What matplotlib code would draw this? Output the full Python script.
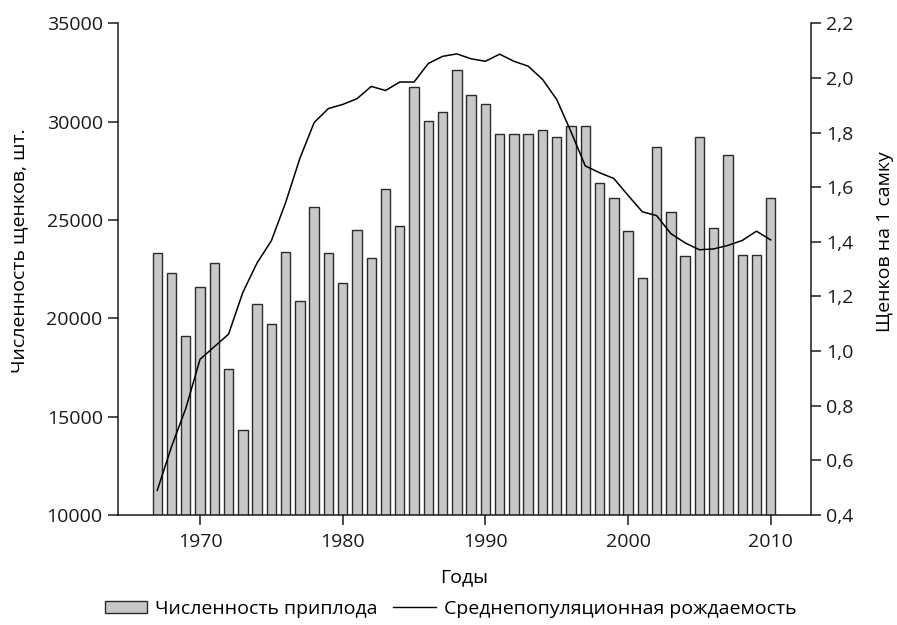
import matplotlib
matplotlib.use("Agg")
import matplotlib.pyplot as plt
from matplotlib.patches import Patch
from matplotlib.lines import Line2D
from matplotlib.ticker import FuncFormatter

plt.rcParams['font.family'] = ['Open Sans', 'DejaVu Sans']

years = list(range(1967, 2011))
offspring = [23300, 22300, 19100, 21600, 22800, 17400, 14300, 20750, 19700, 23350,
             20900, 25650, 23300, 21800, 24500, 23070, 26600, 24700, 31770, 30050,
             30500, 32630, 31370, 30880, 29390, 29390, 29390, 29600, 29200, 29800,
             29800, 26890, 26130, 24440, 22050, 28730, 25430, 23150, 29240, 24600,
             28290, 23240, 23240, 26130]
fertility = [0.49, 0.65, 0.79, 0.97, 1.016, 1.062, 1.215, 1.323, 1.404, 1.544,
             1.706, 1.837, 1.888, 1.903, 1.924, 1.969, 1.954, 1.985, 1.985, 2.053,
             2.079, 2.088, 2.070, 2.061, 2.087, 2.061, 2.043, 1.995, 1.921, 1.803,
             1.678, 1.653, 1.632, 1.570, 1.510, 1.496, 1.430, 1.396, 1.371, 1.374,
             1.387, 1.405, 1.439, 1.407]

left_ticks = [10000, 15000, 20000, 25000, 30000, 35000]
right_ticks = [0.4, 0.6, 0.8, 1.0, 1.2, 1.4, 1.6, 1.8, 2.0, 2.2]
x_ticks = [1970, 1980, 1990, 2000, 2010]

W, H = 897, 625
fig = plt.figure(figsize=(W / 100, H / 100), dpi=100)
L, R, T, B = 118, 810.7, 23.3, 515
ax = fig.add_axes([L / W, 1 - B / H, (R - L) / W, (B - T) / H])

ax.bar(years, offspring, width=0.66, bottom=0, color='#c8c8c8',
       edgecolor='#2a2a2a', linewidth=1.0, zorder=2)
ax.set_ylim(10000, 35000)
ax.set_xlim(1964.25, 2012.8)
ax.set_yticks(left_ticks)
ax.set_xticks(x_ticks)

ax2 = ax.twinx()
ax2.plot(years, fertility, color='black', linewidth=1.1, zorder=3)
ax2.set_ylim(0.4, 2.2)
ax2.set_yticks(right_ticks)
ax2.yaxis.set_major_formatter(FuncFormatter(lambda v, p: f"{v:.1f}".replace('.', ',')))

for a in (ax, ax2):
    a.spines['top'].set_visible(False)
    for s in a.spines.values():
        s.set_linewidth(1.1)
        s.set_color('#1a1a1a')
    a.tick_params(axis='both', direction='out', length=7, width=1.1,
                  labelsize=14, pad=4, colors='#1a1a1a', labelcolor='#1a1a1a')
ax.spines['right'].set_visible(False)
ax2.spines['left'].set_visible(False)
ax2.spines['bottom'].set_visible(False)
ax.tick_params(axis='x', pad=6)

fig.text(464 / W, 1 - 577 / H, 'Годы', ha='center', va='center', fontsize=14)
fig.text(19 / W, 1 - 251 / H, 'Численность щенков, шт.', ha='center', va='center',
         rotation=90, fontsize=14)
fig.text(885 / W, 1 - 242 / H, 'Щенков на 1 самку', ha='center', va='center',
         rotation=90, fontsize=14)

handles = [Patch(facecolor='#c8c8c8', edgecolor='#2a2a2a', linewidth=1.0),
           Line2D([0], [0], color='black', linewidth=1.0)]
labels = ['Численность приплода', 'Среднепопуляционная рождаемость']
fig.legend(handles, labels, loc='center', bbox_to_anchor=(450.5 / W, 1 - 609 / H),
           ncol=2, frameon=False, fontsize=14, handlelength=2.2, handleheight=0.6,
           handletextpad=0.4, columnspacing=0.8, borderpad=0, borderaxespad=0)

fig.savefig('out.png', dpi=100)
